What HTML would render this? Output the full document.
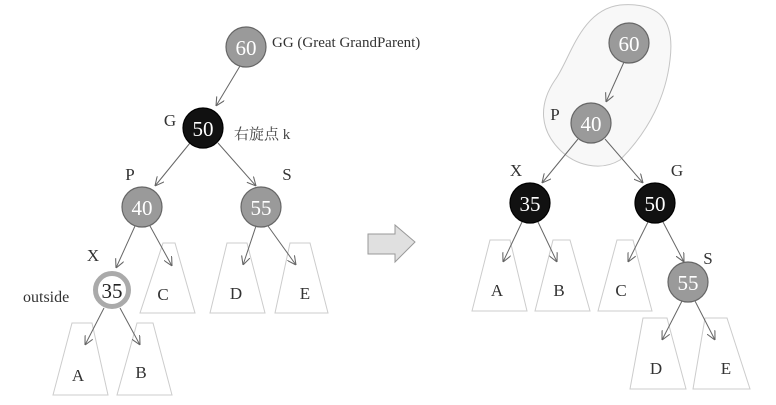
<!DOCTYPE html>
<html><head><meta charset="utf-8"><style>
html,body{margin:0;padding:0;background:#fff;}
svg{display:block;}
text{font-family:"Liberation Serif","Noto Serif CJK SC",serif;}
</style></head><body>
<svg width="776" height="405" viewBox="0 0 776 405" xmlns="http://www.w3.org/2000/svg">
<defs>
<marker id="ar" viewBox="0 0 10 10" refX="10" refY="5" markerWidth="9" markerHeight="9" orient="auto" markerUnits="userSpaceOnUse">
<path d="M0,0 L10,5 L0,10" fill="none" stroke="#666" stroke-width="1.2"/>
</marker>
</defs>
<g fill="none" stroke="#ccc" stroke-width="1">
<path d="M163,243 L175,243 L195,313 L140,313 Z"/>
<path d="M227,243 L247,243 L265,313 L210,313 Z"/>
<path d="M290,243 L310,243 L328,313 L275,313 Z"/>
<path d="M72,323 L92,323 L108,395 L53,395 Z"/>
<path d="M137,323 L153,323 L172,395 L117,395 Z"/>
<path d="M490,240 L510,240 L527,311 L472,311 Z"/>
<path d="M553,240 L570,240 L590,311 L535,311 Z"/>
<path d="M617,240 L633,240 L652,311 L598,311 Z"/>
<path d="M643,318 L667,318 L686,389 L630,389 Z"/>
<path d="M705,318 L727,318 L750,389 L693,389 Z"/>
</g>
<path d="M620,5 C660,2 675,20 670,60 C666,95 650,130 620,160 C600,172 575,165 560,150 C540,130 538,105 555,80 C570,60 580,10 620,5 Z" fill="#f8f8f8" stroke="#c4c4c4" stroke-width="1"/>
<g stroke="#666" stroke-width="1" marker-end="url(#ar)">
<line x1="240" y1="66" x2="216" y2="106"/>
<line x1="190" y1="143" x2="155" y2="186"/>
<line x1="218" y1="143" x2="256" y2="186"/>
<line x1="135" y1="226" x2="116" y2="268"/>
<line x1="150" y1="226" x2="172" y2="266"/>
<line x1="256" y1="226" x2="243" y2="265"/>
<line x1="268" y1="226" x2="296" y2="265"/>
<line x1="104" y1="308" x2="85" y2="345"/>
<line x1="120" y1="308" x2="140" y2="345"/>
<line x1="624" y1="62" x2="606" y2="102"/>
<line x1="578" y1="139" x2="542" y2="183"/>
<line x1="605" y1="139" x2="643" y2="183"/>
<line x1="522" y1="222" x2="503" y2="262"/>
<line x1="538" y1="222" x2="557" y2="262"/>
<line x1="648" y1="222" x2="628" y2="262"/>
<line x1="663" y1="222" x2="684" y2="262"/>
<line x1="682" y1="301" x2="662" y2="340"/>
<line x1="695" y1="301" x2="715" y2="340"/>
</g>
<path d="M368,234 L395,234 L395,225 L415,242 L395,262 L395,254 L368,254 Z" fill="#e0e0e0" stroke="#999" stroke-width="1"/>
<g stroke-width="1.2">
<circle cx="246" cy="47" r="20" fill="#9a9a9a" stroke="#666"/>
<circle cx="203" cy="128" r="20" fill="#111" stroke="#000"/>
<circle cx="142" cy="207" r="20" fill="#9a9a9a" stroke="#666"/>
<circle cx="261" cy="207" r="20" fill="#9a9a9a" stroke="#666"/>
<circle cx="112" cy="290" r="16.5" fill="#fff" stroke="#aaa" stroke-width="5"/>
<circle cx="629" cy="43" r="20" fill="#9a9a9a" stroke="#666"/>
<circle cx="591" cy="123" r="20" fill="#9a9a9a" stroke="#666"/>
<circle cx="530" cy="203" r="20" fill="#111" stroke="#000"/>
<circle cx="655" cy="203" r="20" fill="#111" stroke="#000"/>
<circle cx="688" cy="282" r="20" fill="#9a9a9a" stroke="#666"/>
</g>
<g font-size="21" text-anchor="middle" fill="#fff">
<text x="246" y="55">60</text>
<text x="203" y="136">50</text>
<text x="142" y="215">40</text>
<text x="261" y="215">55</text>
<text x="112" y="298" fill="#222">35</text>
<text x="629" y="51">60</text>
<text x="591" y="131">40</text>
<text x="530" y="211">35</text>
<text x="655" y="211">50</text>
<text x="688" y="290">55</text>
</g>
<g font-size="17" fill="#333" text-anchor="middle">
<text x="78" y="381">A</text>
<text x="141" y="378">B</text>
<text x="163" y="300">C</text>
<text x="236" y="299">D</text>
<text x="305" y="299">E</text>
<text x="497" y="296">A</text>
<text x="559" y="296">B</text>
<text x="621" y="296">C</text>
<text x="656" y="374">D</text>
<text x="726" y="374">E</text>
<text x="170" y="126">G</text>
<text x="130" y="180">P</text>
<text x="287" y="180">S</text>
<text x="93" y="261">X</text>
<text x="555" y="120">P</text>
<text x="516" y="176">X</text>
<text x="677" y="176">G</text>
<text x="708" y="264">S</text>
</g>
<text x="272" y="47" font-size="15" fill="#333">GG (Great GrandParent)</text>
<text x="234" y="139" font-size="15" fill="#444" font-family="'Liberation Sans','Noto Sans CJK SC',sans-serif">右旋点 k</text>
<text x="23" y="302" font-size="16" fill="#333">outside</text>
</svg>
</body></html>
